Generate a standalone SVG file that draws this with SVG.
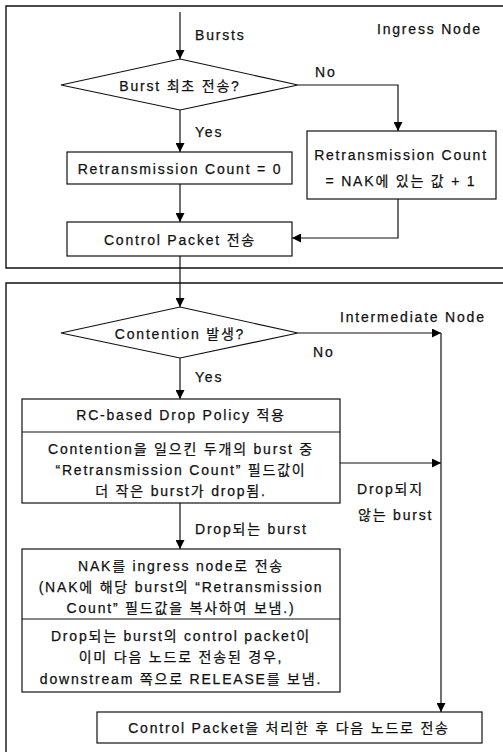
<svg xmlns="http://www.w3.org/2000/svg" width="503" height="752" viewBox="0 0 503 752">
<defs>
<marker id="ah" viewBox="0 0 10 10" refX="10" refY="5" markerWidth="9" markerHeight="9" markerUnits="userSpaceOnUse" orient="auto">
<path d="M0,0 L10,5 L0,10 z" fill="#000"/>
</marker>
</defs>
<style>
text{font-family:"Liberation Sans","Noto Sans CJK KR",sans-serif;font-size:14px;fill:#111;stroke:#111;stroke-width:0.25;letter-spacing:1.8px}
.c{text-anchor:middle}
.box{fill:#fff;stroke:#111;stroke-width:1.2}
.frame{fill:none;stroke:#111;stroke-width:1.4}
.ln{fill:none;stroke:#111;stroke-width:1.2}
.ar{fill:none;stroke:#111;stroke-width:1.2;marker-end:url(#ah)}
</style>
<rect width="503" height="752" fill="#fff"/>
<g id="ingress-frame">
<path class="frame" d="M510,6 H6 V268 H510"/>
<text x="377" y="34">Ingress Node</text>
</g>
<g id="intermediate-frame">
<path class="frame" d="M510,283 H6 V760"/>
<text x="340" y="322">Intermediate Node</text>
</g>
<g id="connectors">
<path class="ar" d="M180,12 V59"/>
<path class="ar" d="M298,85 H398 V131"/>
<path class="ar" d="M180,110 V152"/>
<path class="ar" d="M180,184 V222"/>
<path class="ar" d="M398,199 V238 H292"/>
<path class="ar" d="M180,256 V307"/>
<path class="ar" d="M298,333 H441"/>
<path class="ar" d="M441,333 V712"/>
<path class="ar" d="M180,358 V399"/>
<path class="ar" d="M340,463 H441"/>
<path class="ar" d="M180,503 V549"/>
<text x="195" y="40">Bursts</text>
<text x="315" y="77">No</text>
<text x="195" y="137">Yes</text>
<text x="313" y="357">No</text>
<text x="195" y="382">Yes</text>
<text x="357" y="494">Drop되지</text>
<text x="358" y="520">않는 burst</text>
<text x="195" y="534">Drop되는 burst</text>
</g>
<g id="n-first">
<polygon class="box" points="180,59 298,85 180,110 61,85"/>
<text class="c" x="180" y="91">Burst 최초 전송?</text>
</g>
<g id="n-rc0">
<rect class="box" x="67" y="152" width="225" height="32"/>
<text class="c" x="180" y="174">Retransmission Count = 0</text>
</g>
<g id="n-rcnak">
<rect class="box" x="307" y="131" width="189" height="68"/>
<text class="c" x="401" y="160">Retransmission Count</text>
<text class="c" x="401" y="186">= NAK에 있는 값 + 1</text>
</g>
<g id="n-cp">
<rect class="box" x="67" y="222" width="225" height="34"/>
<text class="c" x="180" y="245">Control Packet 전송</text>
</g>
<g id="n-contention">
<polygon class="box" points="180,307 298,333 180,358 61,333"/>
<text class="c" x="180" y="339">Contention 발생?</text>
</g>
<g id="n-policy">
<rect class="box" x="22" y="399" width="318" height="104"/>
<line class="ln" x1="22" y1="432" x2="340" y2="432"/>
<text class="c" x="181" y="420">RC-based Drop Policy 적용</text>
<text class="c" x="181" y="454">Contention을 일으킨 두개의 burst 중</text>
<text class="c" x="181" y="475">“Retransmission Count” 필드값이</text>
<text class="c" x="181" y="496">더 작은 burst가 drop됨.</text>
</g>
<g id="n-nak">
<rect class="box" x="22" y="549" width="318" height="143"/>
<line class="ln" x1="22" y1="619" x2="340" y2="619"/>
<text class="c" x="181" y="571">NAK를 ingress node로 전송</text>
<text class="c" x="181" y="592">(NAK에 해당 burst의 “Retransmission</text>
<text class="c" x="181" y="613">Count” 필드값을 복사하여 보냄.)</text>
<text class="c" x="181" y="641">Drop되는 burst의 control packet이</text>
<text class="c" x="181" y="662">이미 다음 노드로 전송된 경우,</text>
<text class="c" x="181" y="684">downstream 쪽으로 RELEASE를 보냄.</text>
</g>
<g id="n-forward">
<rect class="box" x="97" y="712" width="385" height="31"/>
<text class="c" x="289" y="733">Control Packet을 처리한 후 다음 노드로 전송</text>
</g>
</svg>
